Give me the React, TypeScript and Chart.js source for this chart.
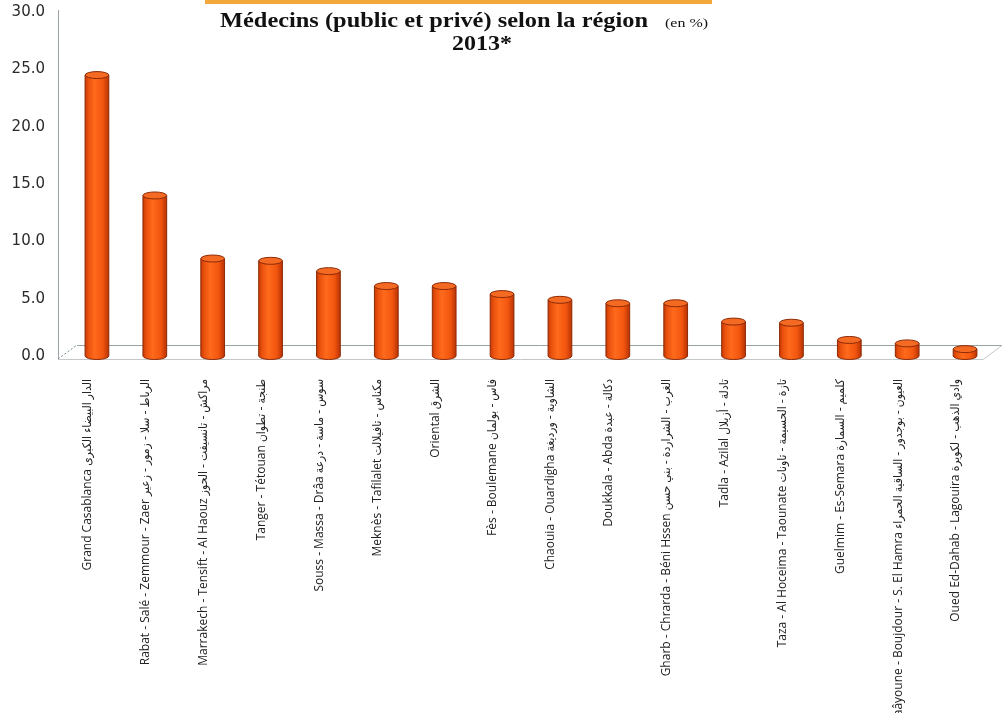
import React, { useEffect, useRef } from "react";
import { Chart, registerables } from "chart.js";

Chart.register(...registerables);

const regions: string[] = [
  "Grand Casablanca الدار البيضاء الكبرى",
  "Rabat - Salé - Zemmour - Zaer الرباط - سلا - زمور - زعير",
  "Marrakech - Tensift - Al Haouz مراكش - تانسيفت - الحوز",
  "Tanger - Tétouan طنجة - تطوان",
  "Souss - Massa - Drâa سوس - ماسة - درعة",
  "Meknès - Tafilalet مكناس - تافيلالت",
  "Oriental الشرق",
  "Fès - Boulemane فاس - بولمان",
  "Chaouia - Ouardigha الشاوية - ورديغة",
  "Doukkala - Abda دكالة - عبدة",
  "Gharb - Chrarda - Béni Hssen الغرب - الشراردة - بني حسن",
  "Tadla - Azilal تادلة - أزيلال",
  "Taza - Al Hoceima - Taounate تازة - الحسيمة - تاونات",
  "Guelmim - Es-Semara كلميم - السمارة",
  "Laâyoune - Boujdour - S. El Hamra العيون - بوجدور - الساقية الحمراء",
  "Oued Ed-Dahab - Lagouira وادي الذهب - لكويرة",
];

const medecinsPct: number[] = [
  24.5, 14.0, 8.5, 8.3, 7.4, 6.1, 6.1, 5.4, 4.9, 4.6, 4.6, 3.0, 2.9, 1.4, 1.1, 0.6,
];

const yTicks: number[] = [0, 5, 10, 15, 20, 25, 30];

const titleMain = "Médecins (public et privé) selon la région";
const titleUnit = "(en %)";
const titleYear = "2013*";

const floorPlugin = {
  id: "floor3d",
  beforeDatasetsDraw(chart: any) {
    const { ctx, chartArea } = chart;
    const L = chartArea.left, R = chartArea.right, B = chartArea.bottom, T = chartArea.top;
    ctx.save();
    ctx.strokeStyle = "#9aa3a3";
    ctx.lineWidth = 1;
    ctx.beginPath();
    ctx.moveTo(L - 10 + 0.5, T - 2);
    ctx.lineTo(L - 10 + 0.5, B + 3);
    ctx.stroke();
    ctx.beginPath();
    ctx.moveTo(L + 9, B - 11 + 0.5);
    ctx.lineTo(R + 8, B - 11 + 0.5);
    ctx.stroke();
    ctx.strokeStyle = "#c4c8c8";
    ctx.beginPath();
    ctx.moveTo(L - 10, B + 3 + 0.5);
    ctx.lineTo(R - 11, B + 3 + 0.5);
    ctx.stroke();
    ctx.beginPath();
    ctx.moveTo(R - 11, B + 3 + 0.5);
    ctx.lineTo(R + 8, B - 11 + 0.5);
    ctx.stroke();
    ctx.setLineDash([2, 2]);
    ctx.strokeStyle = "#6f8a8a";
    ctx.beginPath();
    ctx.moveTo(L - 10, B + 3);
    ctx.lineTo(L + 9, B - 11);
    ctx.stroke();
    ctx.restore();
  },
};

const cylinderPlugin = {
  id: "cylinder",
  afterDatasetsDraw(chart: any) {
    const { ctx } = chart;
    const meta = chart.getDatasetMeta(0);
    ctx.save();
    meta.data.forEach((bar: any) => {
      const p = bar.getProps(["x", "y", "base", "width"], true);
      const w = p.width;
      const left = p.x - w / 2;
      const top = p.y;
      const h = p.base - p.y;
      const ry = 3.5;
      const g = ctx.createLinearGradient(left, 0, left + w, 0);
      g.addColorStop(0, "#c93a04");
      g.addColorStop(0.15, "#ea520e");
      g.addColorStop(0.4, "#ff6a1c");
      g.addColorStop(0.75, "#f2560f");
      g.addColorStop(1, "#b93203");
      ctx.fillStyle = g;
      ctx.beginPath();
      ctx.moveTo(left, top);
      ctx.lineTo(left, top + h);
      ctx.ellipse(p.x, top + h, w / 2, ry, 0, Math.PI, 0, true);
      ctx.lineTo(left + w, top);
      ctx.closePath();
      ctx.fill();
      ctx.strokeStyle = "#8c2a06";
      ctx.lineWidth = 1;
      ctx.beginPath();
      ctx.moveTo(left, top);
      ctx.lineTo(left, top + h);
      ctx.ellipse(p.x, top + h, w / 2, ry, 0, Math.PI, 0, true);
      ctx.lineTo(left + w, top);
      ctx.stroke();
      ctx.fillStyle = "#f56a22";
      ctx.beginPath();
      ctx.ellipse(p.x, top, w / 2, ry, 0, 0, Math.PI * 2);
      ctx.fill();
      ctx.stroke();
    });
    ctx.restore();
  },
};

const titlePlugin = {
  id: "titleText",
  afterDraw(chart: any) {
    const { ctx } = chart;
    ctx.save();
    ctx.fillStyle = "#f2a83a";
    ctx.fillRect(205, 0, 507, 4);
    ctx.fillStyle = "#111";
    ctx.textBaseline = "alphabetic";
    ctx.textAlign = "left";
    const drawFit = (text: string, font: string, x: number, y: number, width: number) => {
      ctx.font = font;
      const m = ctx.measureText(text).width;
      const s = width / m;
      ctx.save();
      ctx.translate(x, y);
      ctx.scale(s, 1);
      ctx.fillText(text, 0, 0);
      ctx.restore();
    };
    drawFit(titleMain, 'bold 22px "Liberation Serif"', 220, 27, 428);
    drawFit(titleUnit, '13px "Liberation Serif"', 665, 27, 43);
    drawFit(titleYear, 'bold 22px "Liberation Serif"', 452, 50, 60);
    ctx.restore();
  },
};

export default function App() {
  const canvasRef = useRef<HTMLCanvasElement | null>(null);

  useEffect(() => {
    if (!canvasRef.current) return;
    const chart = new Chart(canvasRef.current, {
      type: "bar",
      data: {
        labels: regions,
        datasets: [
          {
            label: "Médecins (%)",
            data: medecinsPct,
            backgroundColor: "rgba(0,0,0,0)",
            borderWidth: 0,
            barPercentage: 0.41,
            categoryPercentage: 1,
          },
        ],
      },
      options: {
        responsive: false,
        animation: false,
        layout: { padding: { top: 12, right: 12, left: 0, bottom: 0 } },
        plugins: {
          legend: { display: false },
          title: { display: false },
          tooltip: { enabled: false },
        },
        scales: {
          x: {
            grid: { display: false },
            border: { display: false },
            ticks: {
              autoSkip: false,
              maxRotation: 90,
              minRotation: 90,
              padding: 15,
              labelOffset: -9,
              color: "#222",
              font: { family: "'Open Sans', 'DejaVu Sans Condensed', 'DejaVu Sans', sans-serif", size: 12 },
            },
            afterFit(scale: any) {
              scale.height = 357;
            },
          },
          y: {
            min: 0,
            max: 30,
            afterBuildTicks(scale: any) {
              scale.ticks = yTicks.map((v) => ({ value: v }));
            },
            grid: { display: false, drawTicks: true, tickLength: 23 },
            border: { display: false },
            ticks: {
              padding: 0,
              color: "#2a2a2a",
              font: { family: "'DejaVu Sans', sans-serif", size: 15 },
              callback: (v: any) => Number(v).toFixed(1),
            },
            afterFit(scale: any) {
              scale.width = 68;
            },
          },
        },
      },
      plugins: [floorPlugin, cylinderPlugin, titlePlugin],
    });
    return () => chart.destroy();
  }, []);

  return (
    <div style={{ position: "absolute", left: 0, top: 0, width: 1006, height: 713, background: "#fff" }}>
      <canvas ref={canvasRef} width={1006} height={713} style={{ display: "block" }} />
    </div>
  );
}
